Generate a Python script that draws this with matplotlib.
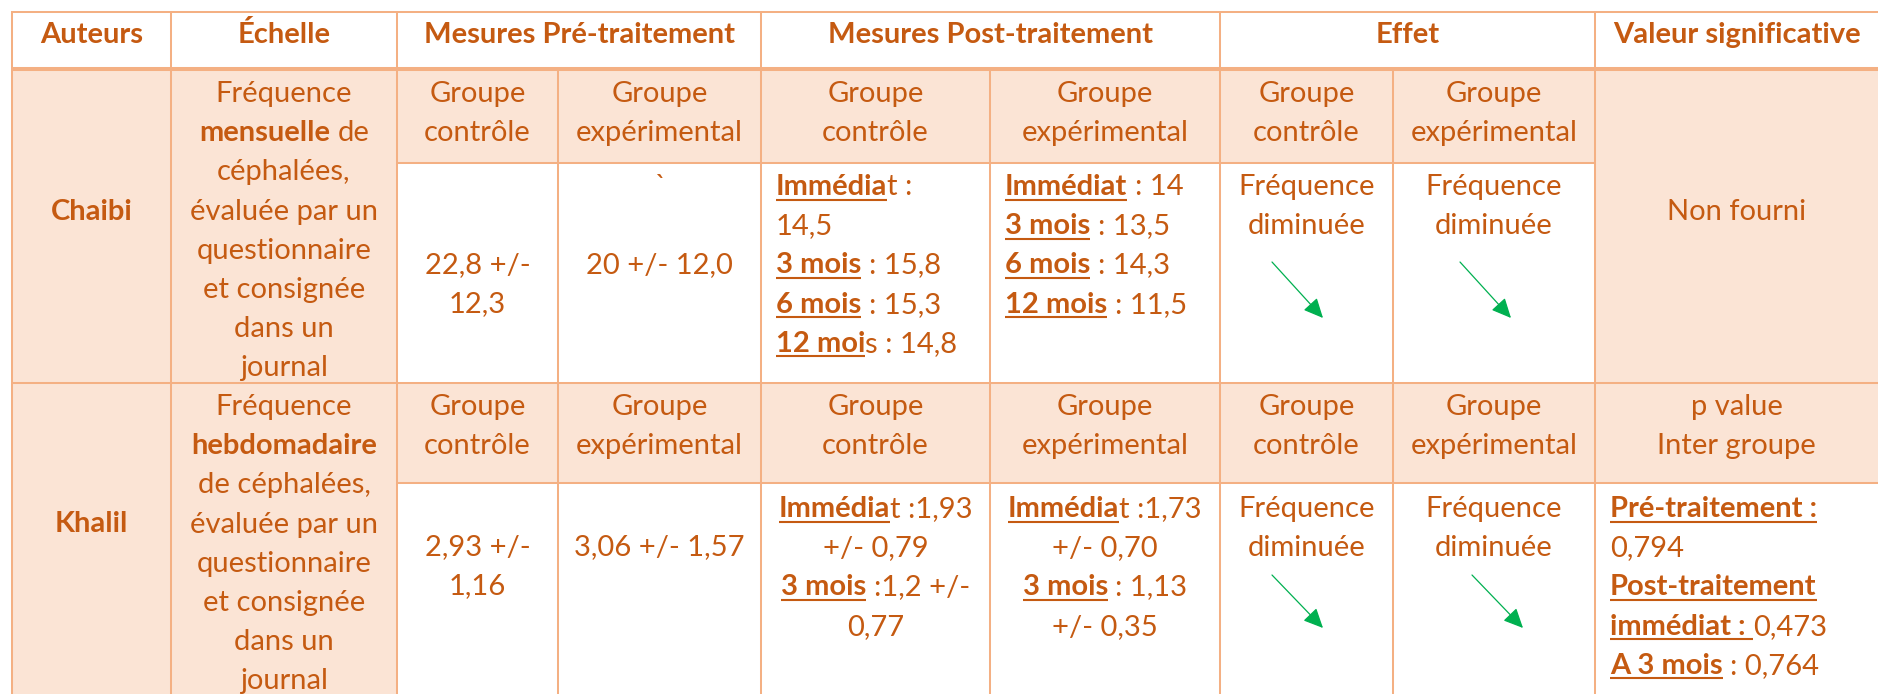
import re
import matplotlib
matplotlib.use("Agg")
import matplotlib.pyplot as plt
from matplotlib.patches import Rectangle, FancyArrowPatch

# ---------------- data (table content) ----------------
headers = ["Auteurs", "Échelle", "Mesures Pré-traitement",
           "Mesures Post-traitement", "Effet", "Valeur significative"]
authors = ["Chaibi", "Khalil"]
group_labels = [["Groupe", "contrôle"], ["Groupe", "expérimental"]]
scale_texts = [
    ["Fréquence", "{mensuelle} de", "céphalées,", "évaluée par un",
     "questionnaire", "et consignée", "dans un", "journal"],
    ["Fréquence", "{hebdomadaire}", "de céphalées,", "évaluée par un",
     "questionnaire", "et consignée", "dans un", "journal"],
]
pre_ctrl = [["22,8 +/-", "12,3"], ["2,93 +/-", "1,16"]]
pre_exp = [["20 +/- 12,0"], ["3,06 +/- 1,57"]]
pre_exp_mark = ["`", ""]
post_ctrl = [
    ["[Immédia]t :", "14,5", "[3 mois] : 15,8", "[6 mois] : 15,3", "[12 moi]s : 14,8"],
    ["[Immédia]t :1,93", "+/- 0,79", "[3 mois] :1,2 +/-", "0,77"],
]
post_exp = [
    ["[Immédiat] : 14", "[3 mois] : 13,5", "[6 mois] : 14,3", "[12 mois] : 11,5"],
    ["[Immédia]t :1,73", "+/- 0,70", "[3 mois] : 1,13", "+/- 0,35"],
]
effect_texts = [["Fréquence", "diminuée"], ["Fréquence", "diminuée"]]
signif_sub = [None, ["p value", "Inter groupe"]]
signif_texts = [
    ["Non fourni"],
    ["[Pré-traitement :]", "0,794", "[Post-traitement]", "[immédiat : ]0,473",
     "[A 3 mois] : 0,764"],
]

# ---------------- style / layout ----------------
W, H = 1878, 694
FONT = "Lato"
FS = 21
TXT = "#C55A11"
FILL = "#FBE4D5"
LINE = "#F4B083"
GREEN = "#00B050"
LH = 39.2

col_x = [12, 171, 397, 558, 761, 990, 1220, 1393, 1595, W]
row_y = [12, 69, 163, 383, 483, H]

fig = plt.figure(figsize=(W / 100, H / 100), dpi=100)
ax = fig.add_axes([0, 0, 1, 1])
ax.set_xlim(0, W)
ax.set_ylim(H, 0)
ax.axis("off")
renderer = fig.canvas.get_renderer()


def text_w(s, bold):
    if not s:
        return 0.0
    t = ax.text(0, 0, s, fontsize=FS, family=FONT,
                weight="bold" if bold else "normal")
    w = t.get_window_extent(renderer).width
    t.remove()
    return w


SW = {b: text_w("a a", b) - text_w("aa", b) for b in (False, True)}


def parse(s):
    runs = []
    for tok in re.split(r"(\[[^\]]*\]|\{[^}]*\})", s):
        if not tok:
            continue
        if tok[0] == "[":
            runs.append((tok[1:-1], True, True))
        elif tok[0] == "{":
            runs.append((tok[1:-1], True, False))
        else:
            runs.append((tok, False, False))
    return runs


def draw_line(s, x, y, ha="center", bold_all=False):
    runs = parse(s)
    meas = []
    total = 0.0
    for txt, bold, ul in runs:
        bold = bold or bold_all
        lead = len(txt) - len(txt.lstrip(" "))
        trail = len(txt) - len(txt.rstrip(" "))
        core = txt.strip(" ")
        cw = text_w(core, bold)
        w = (lead + trail) * SW[bold] + cw
        meas.append((core, bold, ul, lead * SW[bold], cw, w))
        total += w
    cx = x - total / 2 if ha == "center" else x
    for core, bold, ul, lw_, cw, w in meas:
        if core:
            ax.text(cx + lw_, y, core, fontsize=FS, family=FONT, color=TXT,
                    weight="bold" if bold else "normal",
                    ha="left", va="baseline")
        if ul:
            ax.plot([cx, cx + w], [y + 4.5, y + 4.5], color=TXT, lw=1.5,
                    solid_capstyle="butt")
        cx += w


def draw_block(lines, x, y0, ha="center", bold_all=False):
    for i, s in enumerate(lines):
        draw_line(s, x, y0 + i * LH, ha, bold_all)


def rect(x0, y0, x1, y1, color):
    ax.add_patch(Rectangle((x0, y0), x1 - x0, y1 - y0, facecolor=color,
                           edgecolor="none", zorder=0))


# ---------------- fills ----------------
rect(0, 0, W, H, "white")
rect(col_x[0], row_y[1], col_x[2], row_y[5], FILL)
rect(col_x[2], row_y[1], col_x[8], row_y[2], FILL)
rect(col_x[8], row_y[1], W, row_y[3], FILL)
rect(col_x[2], row_y[3], W, row_y[4], FILL)

# ---------------- borders ----------------
def hline(y, x0, x1, lw=1.45):
    ax.plot([x0, x1], [y, y], color=LINE, lw=lw, solid_capstyle="butt", zorder=1)


def vline(x, y0, y1, lw=1.45):
    ax.plot([x, x], [y0, y1], color=LINE, lw=lw, solid_capstyle="butt", zorder=1)


hline(row_y[0], col_x[0] - 1, W)
hline(row_y[1], col_x[0] - 1, W, lw=2.9)
hline(row_y[2], col_x[2], col_x[8])
hline(row_y[3], col_x[0] - 1, W)
hline(row_y[4], col_x[2], W)
for i in (0, 1, 2, 4, 6, 8):
    vline(col_x[i], row_y[0] - 1, H)
for i in (3, 5, 7):
    vline(col_x[i], row_y[1], H)

# ---------------- header row ----------------
header_spans = [(0, 1), (1, 2), (2, 4), (4, 6), (6, 8), (8, 9)]
for h, (a, b) in zip(headers, header_spans):
    draw_line(h, (col_x[a] + col_x[b]) / 2, 43, bold_all=True)

# ---------------- body rows ----------------
sub_base = [102, 415]
author_base = [220, 532]
scale_base = [102, 415]
pre_base = [273, 555]
post_base = [195, 517]
post_align = ["left", "center"]
effect_base = [195, 517]
signif_base = [220, 517]
signif_align = ["center", "left"]
arrows = [[(52, 262, 103, 318), (67, 262, 118, 318)],
          [(52, 575, 103, 628), (79, 575, 130, 628)]]
PAD = 15


def cc(i):
    return (col_x[i] + col_x[i + 1]) / 2


for r in range(2):
    # sub headers (groupe contrôle / expérimental) for 3 groups
    for k, ci in enumerate((2, 3, 4, 5, 6, 7)):
        draw_block(group_labels[k % 2], cc(ci), sub_base[r])
    if signif_sub[r]:
        draw_block(signif_sub[r], (col_x[8] + W) / 2, sub_base[r])
    draw_line(authors[r], cc(0), author_base[r], bold_all=True)
    draw_block(scale_texts[r], cc(1), scale_base[r])
    draw_block(pre_ctrl[r], cc(2), pre_base[r])
    draw_block(pre_exp[r], cc(3), pre_base[r])
    if pre_exp_mark[r]:
        draw_line(pre_exp_mark[r], cc(3), post_base[r])
    for ci, lines in ((4, post_ctrl[r]), (5, post_exp[r])):
        if post_align[r] == "left":
            draw_block(lines, col_x[ci] + PAD, post_base[r], ha="left")
        else:
            draw_block(lines, cc(ci), post_base[r])
    for k, ci in enumerate((6, 7)):
        draw_block(effect_texts[r], cc(ci), effect_base[r])
        x0, y0, x1, y1 = arrows[r][k]
        ax.add_patch(FancyArrowPatch(
            (col_x[ci] + x0, y0), (col_x[ci] + x1, y1),
            arrowstyle="-|>,head_length=0.6,head_width=0.28",
            mutation_scale=20, color=GREEN, lw=0.9,
            shrinkA=0, shrinkB=0, zorder=3))
    if signif_align[r] == "left":
        draw_block(signif_texts[r], col_x[8] + PAD, signif_base[r], ha="left")
    else:
        draw_block(signif_texts[r], (col_x[8] + W) / 2, signif_base[r])

fig.savefig("out.png", dpi=100)
